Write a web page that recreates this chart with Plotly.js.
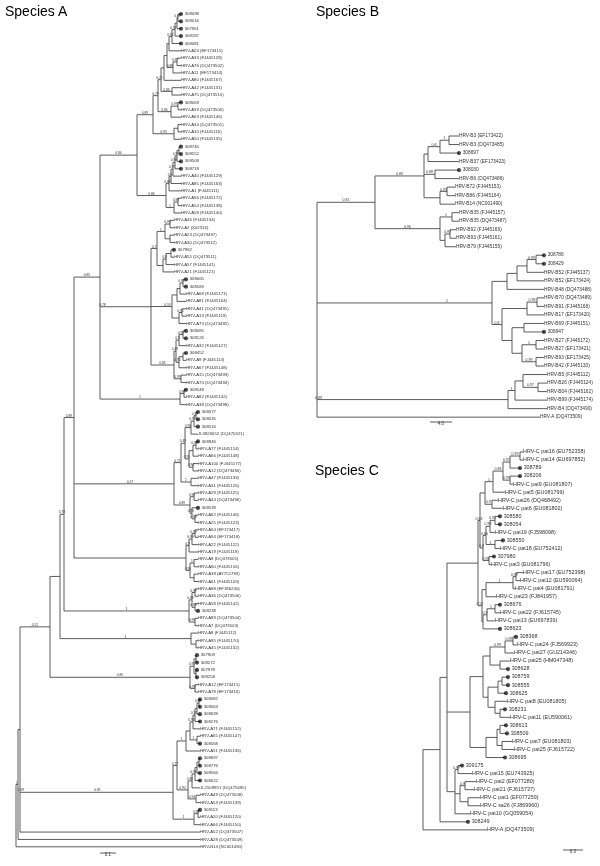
<!DOCTYPE html>
<html>
<head>
<meta charset="utf-8">
<script src="https://cdn.plot.ly/plotly-3.0.1.min.js"></script>
<style>html,body{margin:0;padding:0;background:#fff}#plot{width:600px;height:866px}.main-svg{will-change:transform}</style>
</head>
<body>
<div id="plot"></div>
<script>
// ---------------- DATA ----------------
// Leaf labels (index = leaf number used in the Newick strings). Pure numbers are study samples (drawn with a dot).
const A_labels = ["308098","308016","307961","308187","308081","HRV-A24 (EF173415)","HRV-A33 (FJ445128)","HRV-A76 (DQ473502)","HRV-A11 (EF173414)","HRV-A80 (FJ445167)",
"HRV-A42 (FJ445131)","HRV-A75 (DQ473510)","308069","HRV-A59 (DQ473500)","HRV-A63 (FJ445146)","HRV-A34 (DQ473501)","HRV-A10 (FJ445116)","HRV-A50 (FJ445135)","308746","308552",
"308508","308718","HRV-A40 (FJ445129)","HRV-A85 (FJ445163)","HRV-A1 (FJ445111)","HRV-A56 (FJ445172)","HRV-A54 (FJ445138)","HRV-A58 (FJ445140)","HRV-A46 (FJ445134)","HRV-A2 (X02316)",
"HRV-A23 (DQ473497)","HRV-A30 (DQ473512)","307962","HRV-A55 (DQ473511)","HRV-A57 (FJ445141)","HRV-A21 (FJ445121)","308065","308583","HRV-A68 (FJ445171)","HRV-A81 (FJ445164)",
"HRV-A41 (DQ473491)","HRV-A13 (FJ445119)","HRV-A73 (DQ473492)","308085","308126","HRV-A32 (FJ445127)","308452","HRV-A9 (FJ445114)","HRV-A67 (FJ445148)","HRV-A15 (DQ473493)",
"HRV-A74 (DQ473494)","308548","HRV-A82 (FJ445142)","HRV-A38 (DQ473498)","308077","308035","308516","JL3826652 (DQ475621)","308946","HRV-A77 (FJ445154)",
"HRV-A66 (FJ445148)","HRV-A100 (FJ445177)","HRV-A12 (DQ473490)","HRV-A47 (FJ445133)","HRV-A31 (FJ445126)","HRV-A29 (FJ445125)","HRV-A44 (DQ473496)","308539","HRV-A62 (FJ445146)","HRV-A25 (FJ445123)",
"HRV-A64 (EF173417)","HRV-A94 (EF173418)","HRV-A22 (FJ445122)","HRV-A19 (FJ445119)","HRV-A8 (DQ473505)","HRV-A60 (FJ445156)","HRV-A39 (AY751783)","HRV-A61 (FJ445159)","HRV-A88 (EF186240)","HRV-A36 (DQ473506)",
"HRV-A58 (FJ445142)","308238","HRV-A89 (DQ473504)","HRV-A7 (DQ473503)","HRV-A8 (FJ445112)","HRV-A95 (FJ445170)","HRV-A45 (FJ445132)","307909","308272","307978",
"308258","HRV-A12 (EF173415)","HRV-A78 (EF173416)","308082","308063","308639","308276","HRV-A71 (FJ445152)","HRV-A65 (FJ445147)","308568",
"HRV-A51 (FJ445136)","308697","308776","308566","308022","JL2509951 (DQ475685)","HRV-A49 (DQ473508)","HRV-A53 (FJ445139)","308113","HRV-A20 (FJ445120)",
"HRV-A66 (FJ445150)","HRV-A52 (DQ473507)","HRV-A28 (DQ473509)","HRV-B14 (NC001490)"];

const B_labels = ["HRV-B3 (EF173422)","HRV-B3 (DQ473485)","308697","HRV-B37 (EF173423)","308030","HRV-B6 (DQ473486)","HRV-B72 (FJ445153)","HRV-B86 (FJ445164)","HRV-B14 (NC001490)","HRV-B35 (FJ445157)",
"HRV-B35 (DQ473487)","HRV-B92 (FJ445169)","HRV-B93 (FJ445161)","HRV-B79 (FJ445155)","308786","308429","HRV-B52 (FJ445137)","HRV-B52 (EF173424)","HRV-B48 (DQ473488)","HRV-B70 (DQ473489)",
"HRV-B91 (FJ445168)","HRV-B17 (EF173420)","HRV-B69 (FJ445151)","308947","HRV-B27 (FJ445172)","HRV-B27 (EF173421)","HRV-B93 (EF173425)","HRV-B42 (FJ445130)","HRV-B5 (FJ445112)","HRV-B26 (FJ445124)",
"HRV-B04 (FJ445162)","HRV-B99 (FJ445174)","HRV-B4 (DQ473490)","HRV-A (DQ473509)"];

const C_labels = ["HRV-C pat16 (EU752358)","HRV-C pat14 (EU697852)","308789","308206","HRV-C pat9 (EU081807)","HRV-C pat5 (EU081799)","HRV-C pat26 (DQ468492)","HRV-C pat6 (EU081802)","308580","308054",
"HRV-C pat19 (FJ598098)","308550","HRV-C pat18 (EU752412)","307980","HRV-C pat3 (EU081796)","HRV-C pat17 (EU752398)","HRV-C pat12 (EU590064)","HRV-C pat4 (EU081791)","HRV-C pat23 (FJ841957)","308676",
"HRV-C pat22 (FJ615745)","HRV-C pat13 (EU697839)","308623","308368","HRV-C pat24 (FJ569923)","HRV-C pat27 (GU214346)","HRV-C pat25 (HM047348)","308628","308759","308555",
"308625","HRV-C pat8 (EU081805)","308231","HRV-C pat11 (EU590061)","308613","308509","HRV-C pat7 (EU081803)","HRV-C pat25 (FJ615722)","308695","309175",
"HRV-C pat15 (EU743925)","HRV-C pat2 (EF077280)","HRV-C pat21 (FJ615737)","HRV-C pat1 (EF077259)","HRV-C sa26 (FJ869960)","HRV-C pat10 (GQ059054)","308249","HRV-A (DQ473509)"];

// Tree topologies (Newick): leaf = index into labels, internal label = bootstrap support, :branch length
const A_T1 = "(((((0:3,1:3)0.99:1,2:4):2,3:6)0.97:3,4:9)0.82:3,5:12)";
const A_T2 = "((6:4,7:4)0.97:4,8:8)0.88";
const A_T5 = "((12:3,13:3)0.99:7,14:10)0.84";
const A_T7 = "((15:3,16:3):4,17:7)0.93";
const A_X172 = "((((" + A_T1 + ":2," + A_T2 + ":6):3,9:17):3,(10:9,11:9)0.86:11)0.71:3," + A_T5 + ":13)0.79:5," + A_T7 + ":21)0.89";
const A_X185 = "(((((((18:2,19:2):2,20:4)0.99:2,21:6)0.98:2,22:8)0.97:2,23:10)0.9:2,24:12)0.88:3,((25:3,26:3)0.99:4,27:7)1:8)0.86";
const A_V = "(((28:4,29:4)0.99:5,(30:4,31:4):5)1:8,(((32:3,33:3):5,34:8)0.8:3,35:11):6)0.7";
const A_W = "(((((36:3,37:3)0.99:3,38:6):3,39:9):5,((40:4,41:4)0.95:3,42:7):7)0.59";
const A_Y = "((((43:3,44:3)0.99:4,45:7)0.9:3,((46:3,47:3):4,48:7)0.95:3)0.49:2,(49:5,50:5)0.99:7)0.85";
const A_C51 = "((51:2,52:2)0.99:4,53:6)1";
const A_Top = "((((((54:2,55:2)0.99:2,56:4)0.97:3,57:7)0.96:6,(((58:2,59:2)0.99:3,60:5):4,(61:5,62:5)0.94:4)0.95:4)0.49:4,(63:7,64:7)1:10)0.71";
const A_Bot = "((65:4,66:4)0.92:4,(67:6,(68:3,69:3)0.98:3)0.95:2)0.89";
const A_C70 = "((((70:3,71:3)0.99:3,72:6)0.99:3,73:9)0.9:3,((74:4,75:4)1:4,(76:4,77:4):4)0.99:4)";
const A_C78 = "(((78:3,79:3)0.99:3,(80:3,81:3)0.99:3)0.89:3,(82:3,83:3)0.99:6)1";
const A_C84 = "(84:7,(85:2,86:2):5)1";
const A_C87 = "(((87:1,88:1):2,(89:1,90:1):2)0.95:4,(91:3,92:3)0.99:5)0.85";
const A_C93 = "((((((((93:1,94:1)0.99:2,95:3):2,96:5)0.92:2,97:7)0.94:3,(98:3,99:3)1:7):4,100:14)1:9,(((((101:1,102:1):2,103:3):2,104:5)0.96:3,105:8)0.86:4,(106:4,107:4)0.94:8)0.90:11)0.77";
const A_C108 = "((108:2,109:2)0.99:4,110:6)1";
const A_core = "((((((((" + A_X172 + ":16," + A_X185 + ":29)0.84:37,((" + A_V + ":6," + A_W + ":9):12," + A_Y + ":23):46)0.78:5," + A_C51 + ":80)0.85:26,(" + A_Top + ":7," + A_Bot + ":16)0.27:88):12," + A_C70 + ":112)0.89:10," + A_C78 + ":125)0.78:4," + A_C84 + ":131):10," + A_C87 + ":140)0.52";
const A_newick = "((((" + A_core + ":30,(" + A_C93 + ":4," + A_C108 + ":21)0.81:151)0.99:2,111:180):2,112:182)1:2,113:184);";

const B_newick = "((((((((((0:10,1:10)1:9,2:19)0.8:12,3:31):4,(4:24,5:24)0.88:11,((6:8,7:8)0.93:7,8:15):16)0.89:49,((9:7,10:7)1:12,((11:6,12:6)0.97:5,13:11):5)0.96:65)0.81:58," +
  "((((((14:8,15:8)0.99:9,16:17):10,17:27):10,18:37):15,(((19:7,20:7)0.98:10,21:17):25,((22:20,23:20):12,((24:8,25:8)1:14,(26:8,27:8)0.99:14):10):10)0.8:10)1:90):85," +
  "((((28:24,(29:9,30:9)0.97:15):8,31:32)1:7,32:39):188)0.89:3,33:223);";

const C_G1 = "(((((((0:3,1:3)0.99:10,2:10)0.97:7,(3:10,4:3)0.99:7)0.88:10,5:12)1:8,(6:6,7:11)0.9:7):5,((((8:5,9:5)0.91:5,10:5)0.93:4,(11:8,12:5)1:9)0.86:3,(13:5,14:2)0.98:6)0.9:3)0.63:2," +
  "((((15:7,16:4)0.99:3,17:2)1:27,18:10):4,(((19:5,20:5)1:8,21:8)0.9:4,22:17):1)0.51:4)";
const C_G2 = "((((((23:3,24:4)0.99:8,25:9)0.99:15,(26:10,27:8):10):7,(((28:6,29:6):4,30:8):10,(31:12,(32:5,33:10):5):7):5):13,(((34:6,35:7):3,(36:10,37:12):5):11,38:19):16)";
const C_K = "((39:4,40:14)0.99:3,((41:11,42:9)0.9:5,(43:12,44:12):8):5,45:15)";
const C_newick = "((((" + C_G1 + ":31," + C_G2 + ":18):5," + C_K + ":8):7,46:28):17,47:64);";

const titles = ["Species A", "Species B", "Species C"];
const scaleLabels = ["0.1", "4.0", "0.3"];
const scaleLengths = [16, 22, 20];

// ---------------- LAYOUT (positions / styles) ----------------
const W = 600, H = 866;
const trees = [
  {nwk: A_newick, labels: A_labels, rootPx: 16, y0: 14, dy: 7.37, fs: 4.3, sfs: 3.3, ax: ["x","y"], title: [3, 11], scale: [100, 853]},
  {nwk: B_newick, labels: B_labels, rootPx: 317, y0: 136, dy: 8.52, fs: 4.8, sfs: 3.5, ax: ["x2","y2"], title: [314, 11], scale: [430, 422]},
  {nwk: C_newick, labels: C_labels, rootPx: 423, y0: 452, dy: 8.04, fs: 5.4, sfs: 3.5, ax: ["x3","y3"], title: [313, 470], scale: [563, 850]}
];
const lineColor = "#4a4a4a";
const textColor = "#333333";
const fontFam = "Liberation Sans, Arial, sans-serif";

function parseNewick(str) {
  let i = 0;
  function node() {
    const n = {children: [], name: "", len: 0};
    if (str[i] === "(") {
      i++;
      n.children.push(node());
      while (str[i] === ",") { i++; n.children.push(node()); }
      i++;
    }
    let name = "";
    while (i < str.length && ",:();".indexOf(str[i]) < 0) name += str[i++];
    n.name = name.trim();
    if (str[i] === ":") {
      i++; let num = "";
      while (i < str.length && ",();".indexOf(str[i]) < 0) num += str[i++];
      n.len = parseFloat(num);
    }
    return n;
  }
  return node();
}
function place(n, depth) {
  n.x = depth + n.len;
  if (!n.children.length) { n.y = parseInt(n.name, 10); return; }
  n.children.forEach(c => place(c, n.x));
  n.y = (n.children[0].y + n.children[n.children.length - 1].y) / 2;
}

const data = [];
const layout = {
  width: W, height: H, margin: {l: 0, r: 0, t: 0, b: 0},
  paper_bgcolor: "#fff", plot_bgcolor: "rgba(0,0,0,0)", showlegend: false,
  annotations: []
};

trees.forEach((t, k) => {
  const root = parseNewick(t.nwk);
  place(root, 0);
  const lx = [], ly = [], sx = [], sy = [], st = [], leaves = [];
  (function walk(n, p) {
    if (p) { lx.push(p.x, n.x, null); ly.push(n.y, n.y, null); }
    if (n.children.length) {
      lx.push(n.x, n.x, null);
      ly.push(n.children[0].y, n.children[n.children.length - 1].y, null);
      if (p && n.name) { sx.push((p.x + n.x) / 2); sy.push(n.y); st.push(n.name); }
      n.children.forEach(c => walk(c, n));
    } else leaves.push(n);
  })(root, null);

  const xa = t.ax[0], ya = t.ax[1];
  data.push({type: "scatter", mode: "lines", x: lx, y: ly, xaxis: xa, yaxis: ya,
    line: {color: lineColor, width: 0.9}, hoverinfo: "skip"});
  data.push({type: "scatter", mode: "text", x: sx, y: sy, text: st, xaxis: xa, yaxis: ya,
    textposition: "top center", textfont: {family: fontFam, size: t.sfs, color: textColor}, cliponaxis: false, hoverinfo: "skip"});
  const isSample = leaves.map(l => /^\d+$/.test(t.labels[+l.name]));
  data.push({type: "scatter", mode: "markers+text",
    x: leaves.map(l => l.x), y: leaves.map(l => l.y),
    text: leaves.map(l => t.labels[+l.name]), xaxis: xa, yaxis: ya,
    marker: {color: "#000", size: isSample.map(s => s ? 4.2 : 0), line: {width: 0}},
    textposition: "middle right", textfont: {family: fontFam, size: t.fs, color: textColor},
    cliponaxis: false, hoverinfo: "skip"});

  const sfx = k === 0 ? "" : String(k + 1);
  layout["xaxis" + sfx] = {domain: [0, 1], range: [-t.rootPx, W - t.rootPx], visible: false, fixedrange: true};
  layout["yaxis" + sfx] = {domain: [0, 1], range: [(H - t.y0) / t.dy, -t.y0 / t.dy], visible: false, fixedrange: true};
  if (k > 0) { layout["xaxis" + sfx].overlaying = "x"; layout["yaxis" + sfx].overlaying = "y"; }

  const bx = t.scale[0] - t.rootPx, by = (t.scale[1] - t.y0) / t.dy;
  data.push({type: "scatter", mode: "lines", x: [bx, bx + scaleLengths[k]], y: [by, by], xaxis: xa, yaxis: ya,
    line: {color: lineColor, width: 0.9}, hoverinfo: "skip"});
  data.push({type: "scatter", mode: "text", x: [bx + scaleLengths[k] / 2], y: [by], text: [scaleLabels[k]], xaxis: xa, yaxis: ya,
    textposition: "bottom center", textfont: {family: fontFam, size: 4.5, color: textColor}, cliponaxis: false, hoverinfo: "skip"});

  layout.annotations.push({text: titles[k], xref: "paper", yref: "paper", x: t.title[0] / W, y: 1 - t.title[1] / H,
    xanchor: "left", yanchor: "middle", showarrow: false, font: {family: fontFam, size: 14, color: "#000"}});
});

Plotly.newPlot("plot", data, layout, {staticPlot: true, displayModeBar: false});
</script>
</body>
</html>
